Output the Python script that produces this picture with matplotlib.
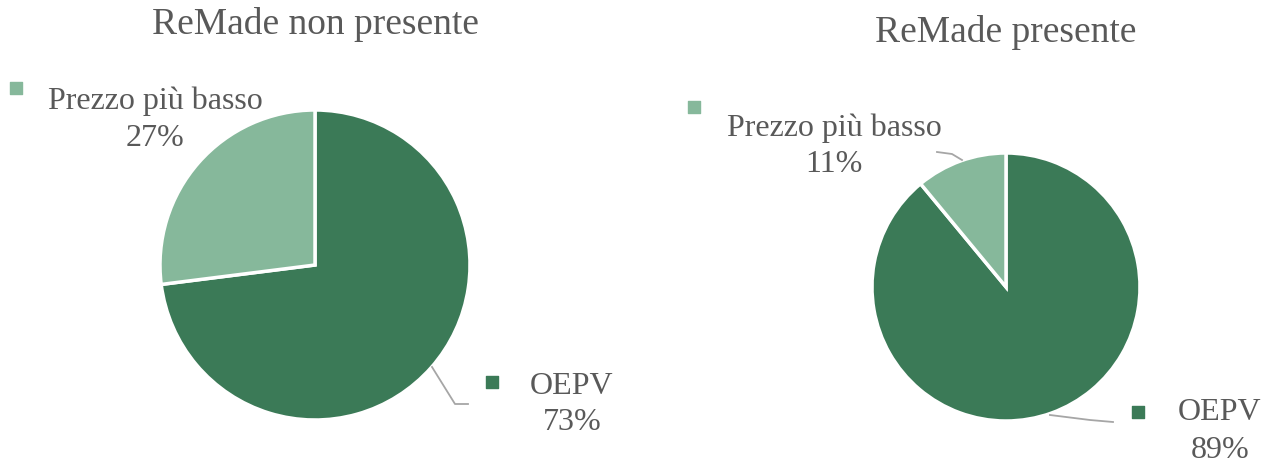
import numpy as np
import matplotlib.pyplot as plt

# data
categories = ['OEPV', 'Prezzo più basso']
titles = ['ReMade non presente', 'ReMade presente']
shares_non = [73, 27]
shares_pres = [89, 11]
colors = ['#3B7A57', '#86B89B']

W, H = 1272, 467
plt.rcParams['font.family'] = ['Liberation Serif', 'DejaVu Serif']
txt_col = '#595959'
line_col = '#A6A6A6'

fig = plt.figure(figsize=(W / 100, H / 100), dpi=100)
ax = fig.add_axes([0, 0, 1, 1])


def Y(y):
    # pixel row -> data y
    return H - y


def draw_pie(vals, center, r):
    ax.pie(vals, colors=colors, startangle=90, counterclock=False,
           center=(center[0], Y(center[1])), radius=r,
           wedgeprops=dict(edgecolor='white', linewidth=2.5))


def label(cat, pct, sq, xy, col):
    ax.scatter([sq[0]], [Y(sq[1])], marker='s', s=72, color=col, zorder=5)
    ax.text(xy[0], Y(xy[1]), cat, ha='center', va='center', fontsize=23, color=txt_col)
    ax.text(xy[0], Y(xy[1] + 37), '%d%%' % pct, ha='center', va='center',
            fontsize=23, color=txt_col)


# left pie
draw_pie(shares_non, (315, 265), 155)
ax.text(315, Y(24), titles[0], ha='center', va='center', fontsize=27, color=txt_col)
label(categories[1], shares_non[1], (16, 88), (155, 101), colors[1])
label(categories[0], shares_non[0], (492, 382), (572, 386), colors[0])
ax.plot([432, 455, 468], [Y(367), Y(404), Y(404)], color=line_col, lw=1.3)

# right pie
draw_pie(shares_pres, (1006, 287), 134)
ax.text(1006, Y(33), titles[1], ha='center', va='center', fontsize=27, color=txt_col)
label(categories[1], shares_pres[1], (694, 107), (834, 128), colors[1])
label(categories[0], shares_pres[0], (1138, 412), (1220, 413), colors[0])
ax.plot([937, 952, 962], [Y(152), Y(154), Y(160)], color=line_col, lw=1.3)
ax.plot([1050, 1090, 1113], [Y(415), Y(420), Y(422)], color=line_col, lw=1.3)

ax.set_xlim(0, W)
ax.set_ylim(0, H)
ax.set_aspect('equal')
ax.axis('off')

fig.savefig('out.png', dpi=100)
